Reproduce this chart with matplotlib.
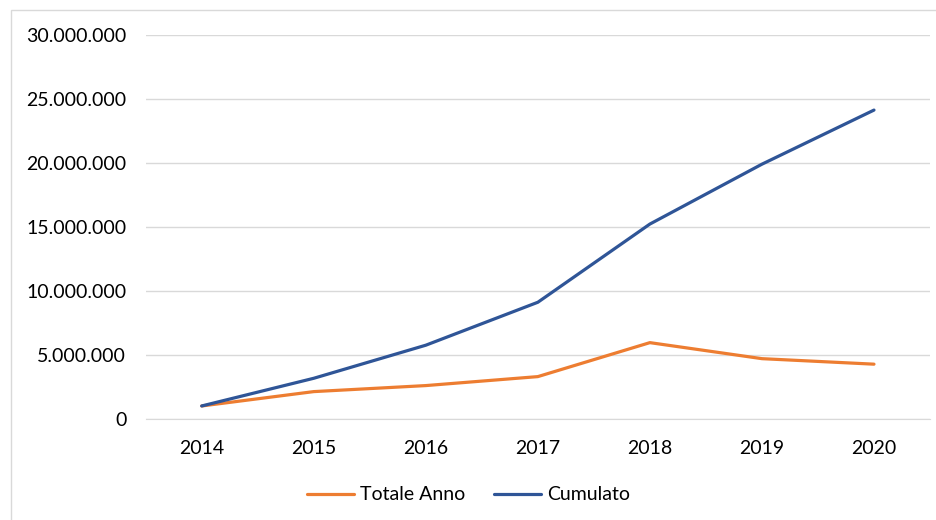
import matplotlib.pyplot as plt
from matplotlib.ticker import FuncFormatter
from matplotlib.patches import Rectangle

anni = ['2014', '2015', '2016', '2017', '2018', '2019', '2020']
totale_anno = [1040000, 2160000, 2630000, 3330000, 5980000, 4730000, 4300000]
cumulato = [1040000, 3200000, 5780000, 9130000, 15230000, 19900000, 24120000]

plt.rcParams['font.family'] = ['Lato', 'DejaVu Sans']

W, H = 937, 520
fig = plt.figure(figsize=(W / 100, H / 100), dpi=100)
ax = fig.add_axes([145.7 / W, 1 - 419.3 / H, (930 - 145.7) / W, (419.3 - 34.7) / H])

# chart border, like the excel chart area
fig.patches.append(Rectangle((11 / W, -0.1), 1.2, 1 - 10 / H + 0.1, transform=fig.transFigure,
                             fill=False, edgecolor='#d9d9d9', linewidth=1))

x = range(len(anni))
ax.plot(x, totale_anno, color='#ED7D31', linewidth=2.3, label='Totale Anno', solid_capstyle='round')
ax.plot(x, cumulato, color='#2F5597', linewidth=2.3, label='Cumulato', solid_capstyle='round')

ax.set_xlim(-0.5, len(anni) - 0.5)
ax.set_ylim(0, 30000000)
ax.set_yticks(range(0, 30000001, 5000000))
ax.yaxis.set_major_formatter(FuncFormatter(lambda v, p: f'{int(v):,}'.replace(',', '.')))
ax.set_xticks(list(x))
ax.set_xticklabels(anni)

ax.grid(axis='y', color='#d9d9d9', linewidth=1)
ax.set_axisbelow(True)
for s in ['top', 'right', 'left']:
    ax.spines[s].set_visible(False)
ax.spines['bottom'].set_color('#d9d9d9')
ax.tick_params(length=0, labelsize=14, colors='#000000')
ax.tick_params(axis='y', pad=14)
ax.tick_params(axis='x', pad=15)

fig.legend(loc='center', bbox_to_anchor=(0.5, 1 - 495 / H), ncol=2, frameon=False,
           fontsize=14, handlelength=2.4, handletextpad=0.3, columnspacing=1.5)

fig.savefig('out.png', dpi=100)
